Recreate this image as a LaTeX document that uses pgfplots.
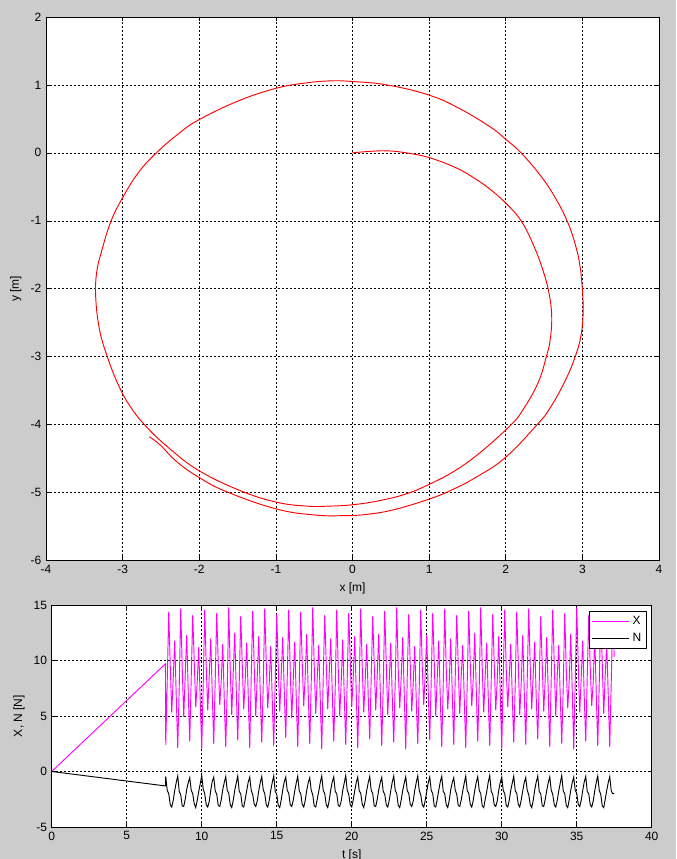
\documentclass[border=0pt]{standalone}
\usepackage{pgfplots}
\pgfplotsset{compat=1.18}
\usepackage{pgfplotstable}
\usepackage{fontspec}
\setmainfont{Liberation Sans}
\definecolor{figbg}{RGB}{204,204,204}
\definecolor{mag}{RGB}{255,0,255}

\pgfplotstableread[row sep=\\]{
t X N\\
0 0 0\\ 7.58 9.7 -1.3\\
7.6 2.4 -0.45\\ 7.7 8.1 -1.7\\ 7.8 14.4 -2.0\\ 7.9 9.6 -3.0\\ 8.0 5.3 -3.2\\ 8.1 8.4 -2.6\\ 8.2 11.8 -1.7\\ 8.3 6.8 -1.0\\
8.4 2.1 -0.40\\ 8.5 7.6 -1.8\\ 8.6 14.7 -2.1\\ 8.7 9.3 -3.1\\ 8.8 4.9 -3.15\\ 8.9 8.7 -2.5\\ 9.0 12.3 -1.6\\ 9.1 7.2 -1.0\\
9.2 2.7 -0.55\\ 9.3 8.5 -1.7\\ 9.4 14.1 -2.0\\ 9.5 9.9 -2.9\\ 9.6 5.8 -3.25\\ 9.7 8.1 -2.6\\ 9.8 11.2 -1.8\\ 9.9 6.4 -1.1\\
10.0 2.0 -0.35\\ 10.1 7.9 -1.6\\ 10.2 14.6 -2.0\\ 10.3 9.5 -3.0\\ 10.4 5.5 -3.2\\ 10.5 8.6 -2.7\\ 10.6 12.0 -1.7\\ 10.7 7.0 -0.9\\
10.8 2.5 -0.5\\ 10.9 8.3 -1.75\\ 11.0 14.3 -2.05\\ 11.1 9.8 -3.05\\ 11.2 6.0 -3.15\\ 11.3 8.2 -2.55\\ 11.4 11.5 -1.65\\ 11.5 6.6 -1.0\\
11.6 2.2 -0.45\\ 11.7 7.4 -1.7\\ 11.8 14.8 -1.95\\ 11.9 9.2 -3.0\\ 12.0 5.1 -3.25\\ 12.1 8.9 -2.6\\ 12.2 12.5 -1.7\\ 12.3 7.4 -1.05\\
12.4 2.8 -0.4\\ 12.5 8.0 -1.8\\ 12.6 14.0 -2.0\\ 12.7 9.7 -3.1\\ 12.8 5.6 -3.2\\ 12.9 8.3 -2.5\\ 13.0 11.6 -1.7\\ 13.1 6.9 -0.95\\
13.2 2.1 -0.5\\ 13.3 8.6 -1.7\\ 13.4 14.5 -2.1\\ 13.5 9.4 -2.95\\ 13.6 5.0 -3.15\\ 13.7 8.5 -2.65\\ 13.8 12.2 -1.75\\ 13.9 7.1 -1.0\\
14.0 2.6 -0.45\\ 14.1 7.7 -1.65\\ 14.2 14.7 -2.0\\ 14.3 9.9 -3.0\\ 14.4 5.7 -3.2\\ 14.5 8.0 -2.6\\ 14.6 11.3 -1.7\\ 14.7 6.5 -1.0\\
14.8 2.3 -0.38\\ 14.9 8.2 -1.8\\ 15.0 14.2 -2.05\\ 15.1 9.6 -3.05\\ 15.2 5.4 -3.25\\ 15.3 8.7 -2.55\\ 15.4 12.1 -1.65\\ 15.5 7.3 -0.95\\
15.6 3.0 -0.5\\ 15.7 8.4 -1.7\\ 15.8 14.6 -1.95\\ 15.9 9.1 -3.0\\ 16.0 4.8 -3.15\\ 16.1 8.2 -2.6\\ 16.2 11.7 -1.75\\ 16.3 6.7 -1.05\\
16.4 2.2 -0.42\\ 16.5 7.8 -1.75\\ 16.6 14.4 -2.0\\ 16.7 9.8 -2.95\\ 16.8 5.9 -3.2\\ 16.9 8.6 -2.6\\ 17.0 12.4 -1.7\\ 17.1 7.0 -1.0\\
17.2 2.5 -0.55\\ 17.3 8.0 -1.7\\ 17.4 14.8 -2.1\\ 17.5 9.5 -3.1\\ 17.6 5.2 -3.2\\ 17.7 8.4 -2.5\\ 17.8 11.4 -1.8\\ 17.9 6.6 -1.0\\
18.0 2.0 -0.4\\ 18.1 8.5 -1.7\\ 18.2 14.1 -2.0\\ 18.3 9.7 -3.0\\ 18.4 5.6 -3.25\\ 18.5 8.8 -2.6\\ 18.6 12.0 -1.65\\ 18.7 7.2 -0.95\\
18.8 2.7 -0.48\\ 18.9 7.5 -1.8\\ 19.0 14.6 -2.0\\ 19.1 9.3 -3.05\\ 19.2 5.0 -3.15\\ 19.3 8.1 -2.65\\ 19.4 11.9 -1.7\\ 19.5 6.9 -1.05\\
19.6 2.4 -0.36\\ 19.7 8.3 -1.7\\ 19.8 14.3 -2.05\\ 19.9 9.9 -3.0\\ 20.0 5.8 -3.2\\ 20.1 8.5 -2.55\\ 20.2 12.2 -1.75\\ 20.3 7.1 -1.0\\
20.4 2.1 -0.5\\ 20.5 7.9 -1.75\\ 20.6 14.7 -1.95\\ 20.7 9.4 -2.95\\ 20.8 5.3 -3.25\\ 20.9 8.3 -2.6\\ 21.0 11.5 -1.7\\ 21.1 6.7 -1.0\\
21.2 2.9 -0.44\\ 21.3 8.6 -1.7\\ 21.4 14.0 -2.0\\ 21.5 9.6 -3.1\\ 21.6 5.5 -3.15\\ 21.7 8.7 -2.5\\ 21.8 12.4 -1.65\\ 21.9 7.3 -1.0\\
22.0 2.3 -0.52\\ 22.1 7.7 -1.8\\ 22.2 14.5 -2.05\\ 22.3 9.8 -3.0\\ 22.4 5.1 -3.2\\ 22.5 8.2 -2.6\\ 22.6 11.6 -1.75\\ 22.7 6.8 -0.95\\
22.8 2.6 -0.4\\ 22.9 8.1 -1.7\\ 23.0 14.8 -2.0\\ 23.1 9.2 -3.05\\ 23.2 5.7 -3.25\\ 23.3 8.6 -2.55\\ 23.4 12.1 -1.7\\ 23.5 7.0 -1.05\\
23.6 2.0 -0.47\\ 23.7 8.4 -1.75\\ 23.8 14.2 -1.95\\ 23.9 9.7 -2.95\\ 24.0 5.4 -3.15\\ 24.1 8.0 -2.65\\ 24.2 11.3 -1.7\\ 24.3 6.5 -1.0\\
24.4 2.5 -0.38\\ 24.5 7.6 -1.7\\ 24.6 14.6 -2.1\\ 24.7 9.5 -3.0\\ 24.8 6.0 -3.2\\ 24.9 8.8 -2.6\\ 25.0 12.3 -1.8\\ 25.1 7.2 -1.0\\
25.2 2.8 -0.5\\ 25.3 8.3 -1.7\\ 25.4 14.3 -2.0\\ 25.5 9.9 -3.1\\ 25.6 5.0 -3.2\\ 25.7 8.4 -2.5\\ 25.8 11.8 -1.7\\ 25.9 6.8 -0.95\\
26.0 2.2 -0.43\\ 26.1 7.9 -1.8\\ 26.2 14.7 -2.0\\ 26.3 9.3 -3.0\\ 26.4 5.6 -3.25\\ 26.5 8.1 -2.6\\ 26.6 12.0 -1.65\\ 26.7 7.1 -1.0\\
26.8 2.4 -0.55\\ 26.9 8.5 -1.7\\ 27.0 14.1 -2.05\\ 27.1 9.6 -3.05\\ 27.2 5.2 -3.15\\ 27.3 8.6 -2.55\\ 27.4 11.4 -1.75\\ 27.5 6.6 -1.05\\
27.6 2.1 -0.4\\ 27.7 8.0 -1.75\\ 27.8 14.5 -1.95\\ 27.9 9.8 -2.95\\ 28.0 5.9 -3.2\\ 28.1 8.3 -2.6\\ 28.2 12.5 -1.7\\ 28.3 7.4 -1.0\\
28.4 2.7 -0.46\\ 28.5 7.7 -1.7\\ 28.6 14.8 -2.0\\ 28.7 9.4 -3.1\\ 28.8 5.3 -3.25\\ 28.9 8.7 -2.5\\ 29.0 11.6 -1.8\\ 29.1 6.7 -0.95\\
29.2 2.3 -0.36\\ 29.3 8.2 -1.8\\ 29.4 14.2 -2.05\\ 29.5 9.7 -3.0\\ 29.6 5.5 -3.15\\ 29.7 8.2 -2.65\\ 29.8 12.2 -1.7\\ 29.9 7.0 -1.0\\
30.0 2.0 -0.5\\ 30.1 8.6 -1.7\\ 30.2 14.6 -2.0\\ 30.3 9.2 -3.05\\ 30.4 5.8 -3.2\\ 30.5 8.5 -2.6\\ 30.6 11.5 -1.7\\ 30.7 6.9 -1.05\\
30.8 2.6 -0.42\\ 30.9 7.8 -1.75\\ 31.0 14.4 -1.95\\ 31.1 9.9 -2.95\\ 31.2 5.1 -3.2\\ 31.3 8.0 -2.55\\ 31.4 12.3 -1.75\\ 31.5 7.2 -1.0\\
31.6 2.4 -0.53\\ 31.7 8.3 -1.7\\ 31.8 14.7 -2.1\\ 31.9 9.5 -3.0\\ 32.0 5.6 -3.25\\ 32.1 8.8 -2.6\\ 32.2 11.7 -1.65\\ 32.3 6.6 -0.95\\
32.4 2.9 -0.4\\ 32.5 8.0 -1.8\\ 32.6 14.0 -2.0\\ 32.7 9.6 -3.1\\ 32.8 5.4 -3.15\\ 32.9 8.4 -2.5\\ 33.0 12.1 -1.7\\ 33.1 7.1 -1.0\\
33.2 2.2 -0.48\\ 33.3 8.4 -1.7\\ 33.4 14.6 -2.05\\ 33.5 9.8 -3.0\\ 33.6 5.0 -3.2\\ 33.7 8.6 -2.6\\ 33.8 11.4 -1.75\\ 33.9 6.8 -1.05\\
34.0 2.5 -0.37\\ 34.1 7.6 -1.75\\ 34.2 14.3 -2.0\\ 34.3 9.3 -3.05\\ 34.4 5.7 -3.25\\ 34.5 8.2 -2.55\\ 34.6 12.4 -1.7\\ 34.7 7.3 -1.0\\
34.8 2.0 -0.5\\ 34.9 8.2 -1.7\\ 35.0 14.8 -1.95\\ 35.1 9.7 -2.95\\ 35.2 5.3 -3.15\\ 35.3 8.5 -2.6\\ 35.4 11.8 -1.7\\ 35.5 6.7 -0.95\\
35.6 2.7 -0.44\\ 35.7 8.5 -1.8\\ 35.8 14.1 -2.0\\ 35.9 9.4 -3.0\\ 36.0 5.9 -3.2\\ 36.1 8.1 -2.65\\ 36.2 12.2 -1.75\\ 36.3 7.0 -1.0\\
36.4 2.3 -0.4\\ 36.5 7.9 -1.7\\ 36.6 14.5 -2.05\\ 36.7 9.8 -3.1\\ 36.8 5.2 -3.25\\ 36.9 8.7 -2.5\\ 37.0 11.5 -1.7\\ 37.1 6.9 -1.0\\
37.2 2.2 -0.45\\ 37.3 8.0 -1.75\\ 37.4 14.2 -2.0\\ 37.5 10.3 -2.0\\
}\forcetable

\pgfplotsset{mstyle/.style={
  scale only axis, anchor=south west,
  axis background/.style={fill=white},
  grid=major,
  major grid style={black, line width=0.4pt, dash pattern=on 1.5pt off 1.5pt},
  axis line style={black, line width=0.5pt},
  tick style={black, line width=0.4pt},
  major tick length=3pt, tick align=inside,
  ticklabel style={font=\fontsize{9}{10}\selectfont},
  label style={font=\fontsize{9}{10}\selectfont},
  /pgf/number format/assume math mode=true,
  /pgf/number format/fixed,
}}

\begin{document}
\begin{tikzpicture}
\fill[figbg] (0,0) rectangle (507pt,644.25pt);
\useasboundingbox (0,0) rectangle (507pt,644.25pt);

\begin{axis}[mstyle,
  at={(34.5pt,223.9pt)}, width=459.75pt, height=407.6pt,
  xmin=-4, xmax=4, ymin=-6, ymax=2,
  xtick={-4,-3,...,4}, ytick={-6,-5,...,2},
  xlabel={x [m]}, ylabel={y [m]},
]
\addplot[red, line width=0.7pt, smooth, tension=0.7] coordinates {
(0,0) (0.2,0.02) (0.45,0.03) (0.7,0.0) (1.0,-0.07) (1.35,-0.22) (1.6,-0.38) (1.8,-0.54)
(2.0,-0.74) (2.2,-1.0) (2.37,-1.38) (2.5,-1.78) (2.57,-2.1) (2.6,-2.42) (2.58,-2.75)
(2.53,-3.0) (2.42,-3.39) (2.22,-3.79) (2.07,-4.0) (1.7,-4.38) (1.35,-4.67) (1.0,-4.88)
(0.7,-5.02) (0.35,-5.12) (0,-5.18) (-0.3,-5.2) (-0.6,-5.2) (-1.0,-5.14) (-1.47,-4.97)
(-2.0,-4.68) (-2.38,-4.36) (-2.7,-4.02) (-2.92,-3.7) (-3.07,-3.38) (-3.2,-3.0)
(-3.3,-2.61) (-3.35,-2.15) (-3.34,-1.77) (-3.27,-1.43) (-3.15,-1.0) (-3.0,-0.66)
(-2.8,-0.3) (-2.56,0) (-2.25,0.3) (-2.0,0.49) (-1.5,0.76) (-1.0,0.95) (-0.6,1.03)
(-0.28,1.06) (0.0,1.05) (0.45,1.0) (1.0,0.85) (1.4,0.65) (1.8,0.38) (2.0,0.2)
(2.2,0.0) (2.45,-0.33) (2.63,-0.63) (2.8,-1.0) (2.92,-1.4) (2.98,-1.75) (3.0,-2.0)
(3.01,-2.35) (2.98,-2.7) (2.9,-3.02) (2.76,-3.39) (2.57,-3.77) (2.41,-4.0) (2.0,-4.48)
(1.62,-4.77) (1.28,-4.97) (0.99,-5.1) (0.55,-5.25) (0.2,-5.32) (-0.1,-5.34) (-0.5,-5.33)
(-1.0,-5.24) (-1.64,-4.99) (-2.0,-4.78) (-2.29,-4.55) (-2.51,-4.3) (-2.65,-4.18)
};
\end{axis}

\begin{axis}[mstyle,
  at={(38.8pt,24pt)}, width=450pt, height=166.5pt,
  xmin=0, xmax=40, ymin=-5, ymax=15,
  xtick={0,5,...,40}, ytick={-5,0,...,15},
  xlabel={t [s]}, ylabel={X, N [N]},
  legend style={at={(0.992,0.973)}, anchor=north east, draw=black, fill=white,
    font=\fontsize{9}{10}\selectfont, inner xsep=2pt, inner ysep=2pt,
    row sep=0.5pt, cells={anchor=west}, line width=0.5pt},
  legend image code/.code={\draw[#1] (0pt,0pt) -- (28pt,0pt);},
]
\addplot[mag, line width=0.7pt] table[x=t, y=X] {\forcetable};
\addlegendentry{X}
\addplot[black, line width=0.7pt] table[x=t, y=N] {\forcetable};
\addlegendentry{N}
\end{axis}
\end{tikzpicture}
\end{document}
